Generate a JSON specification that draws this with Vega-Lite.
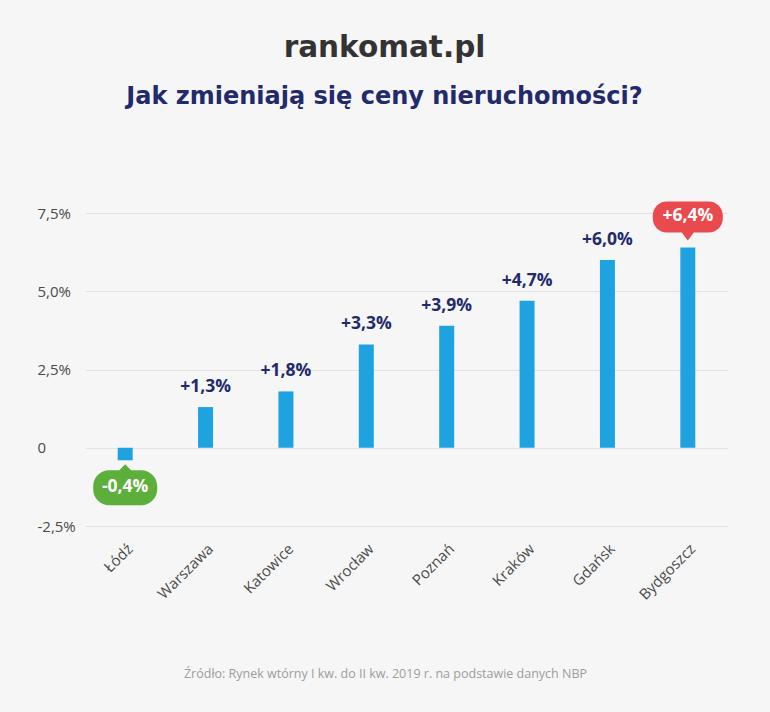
{
  "$schema": "https://vega.github.io/schema/vega-lite/v6.json",
  "autosize": {"type": "none"},
  "padding": {"left": 85, "top": 213, "right": 42, "bottom": 186},
  "width": 643,
  "height": 313,
  "background": "#f6f6f6",
  "title": {
    "text": "rankomat.pl",
    "subtitle": "Jak zmieniają się ceny nieruchomości?",
    "anchor": "middle",
    "dx": -22,
    "font": "DejaVu Sans",
    "fontSize": 29.5,
    "fontWeight": "bold",
    "color": "#333333",
    "subtitleFont": "DejaVu Sans",
    "subtitleFontSize": 24,
    "subtitleFontWeight": "bold",
    "subtitleColor": "#232a6c",
    "subtitlePadding": 22,
    "offset": 91
  },
  "data": {
    "values": [
      {"city": "Łódź", "value": -0.4, "label": "-0,4%", "callout": "neg"},
      {"city": "Warszawa", "value": 1.3, "label": "+1,3%", "callout": "none"},
      {"city": "Katowice", "value": 1.8, "label": "+1,8%", "callout": "none"},
      {"city": "Wrocław", "value": 3.3, "label": "+3,3%", "callout": "none"},
      {"city": "Poznań", "value": 3.9, "label": "+3,9%", "callout": "none"},
      {"city": "Kraków", "value": 4.7, "label": "+4,7%", "callout": "none"},
      {"city": "Gdańsk", "value": 6.0, "label": "+6,0%", "callout": "none"},
      {"city": "Bydgoszcz", "value": 6.4, "label": "+6,4%", "callout": "max"}
    ]
  },
  "encoding": {
    "x": {
      "field": "city",
      "type": "nominal",
      "sort": null,
      "axis": {
        "labelAngle": -45,
        "labelFont": "Open Sans",
        "labelFontSize": 15,
        "labelColor": "#4a4a4a",
        "labelPadding": 15,
        "domain": false,
        "ticks": false,
        "title": "Źródło: Rynek wtórny I kw. do II kw. 2019 r. na podstawie danych NBP",
        "titleFont": "Open Sans",
        "titleFontSize": 12.5,
        "titleFontWeight": "normal",
        "titleColor": "#9d9d9d",
        "titleX": 300,
        "titleY": 147,
        "titleBaseline": "middle",
        "titleAnchor": "middle",
        "titleAlign": "center"
      }
    },
    "y": {
      "field": "value",
      "type": "quantitative",
      "scale": {"domain": [-2.5, 7.5], "nice": false},
      "axis": {
        "values": [-2.5, 0, 2.5, 5, 7.5],
        "labelExpr": "datum.value == 0 ? '0' : replace(replace(format(datum.value, '.1f'), '.', ','), '−', '-') + '%'",
        "grid": true,
        "gridColor": "#e2e2e2",
        "domain": false,
        "ticks": false,
        "title": null,
        "labelAlign": "left",
        "labelPadding": 48,
        "labelFont": "Open Sans",
        "labelFontSize": 15,
        "labelColor": "#4a4a4a"
      }
    }
  },
  "layer": [
    {"mark": {"type": "bar", "width": 15, "color": "#1fa3e0"}},
    {
      "transform": [{"filter": "datum.callout == 'none'"}],
      "mark": {"type": "text", "dy": -20, "baseline": "middle", "font": "Open Sans", "fontSize": 17.5, "fontWeight": "bold", "color": "#232a6c"},
      "encoding": {"text": {"field": "label"}}
    },
    {
      "transform": [{"filter": "datum.callout == 'neg'"}],
      "mark": {"type": "point", "filled": true, "opacity": 1, "size": 4096, "strokeWidth": 0, "color": "#5daf3b",
        "shape": "M0,0.125L0.1875,0.3125L0.5,0.3125C0.776,0.3125,1,0.536,1,0.8125L1,0.906C1,1.1825,0.776,1.406,0.5,1.406L-0.5,1.406C-0.776,1.406,-1,1.1825,-1,0.906L-1,0.8125C-1,0.536,-0.776,0.3125,-0.5,0.3125L-0.1875,0.3125Z"}
    },
    {
      "transform": [{"filter": "datum.callout == 'max'"}],
      "mark": {"type": "point", "filled": true, "opacity": 1, "size": 4096, "strokeWidth": 0, "color": "#e84a4d",
        "shape": "M0,-0.219L-0.1875,-0.469L-0.656,-0.469C-0.898,-0.469,-1.094,-0.665,-1.094,-0.906L-1.094,-1C-1.094,-1.242,-0.898,-1.4375,-0.656,-1.4375L0.656,-1.4375C0.898,-1.4375,1.094,-1.242,1.094,-1L1.094,-0.906C1.094,-0.665,0.898,-0.469,0.656,-0.469L0.1875,-0.469Z"}
    },
    {
      "transform": [{"filter": "datum.callout == 'neg'"}],
      "mark": {"type": "text", "dy": 27, "baseline": "middle", "font": "Open Sans", "fontSize": 17.5, "fontWeight": "bold", "color": "#ffffff"},
      "encoding": {"text": {"field": "label"}}
    },
    {
      "transform": [{"filter": "datum.callout == 'max'"}],
      "mark": {"type": "text", "dy": -31, "baseline": "middle", "font": "Open Sans", "fontSize": 17.5, "fontWeight": "bold", "color": "#ffffff"},
      "encoding": {"text": {"field": "label"}}
    }
  ],
  "config": {"view": {"stroke": null}}
}
